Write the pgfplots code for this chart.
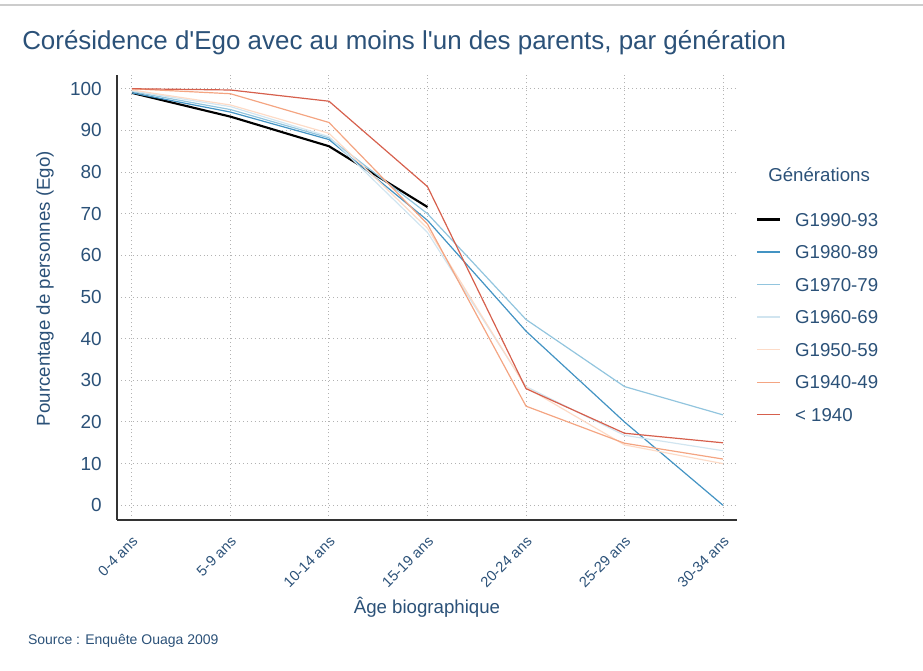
\documentclass[border=0pt]{standalone}
\usepackage{fontspec}
\setmainfont{Liberation Sans}
\usepackage{pgfplots}
\pgfplotsset{compat=1.18}

\definecolor{txt}{HTML}{2B5178}
\definecolor{g90}{HTML}{000000}
\definecolor{g80}{HTML}{4393C3}
\definecolor{g70}{HTML}{92C5DE}
\definecolor{g60}{HTML}{D1E5F0}
\definecolor{g50}{HTML}{FDDBC7}
\definecolor{g40}{HTML}{F4A582}
\definecolor{g30}{HTML}{D6604D}

\begin{document}
\begin{tikzpicture}
\useasboundingbox (0,0) rectangle (692.25pt,502.5pt);
\draw[line width=1.1pt, color=black!20] (0,498.75pt) -- (692.25pt,498.75pt);
\node[anchor=base west, inner sep=0pt, text=txt, font=\fontsize{19.45pt}{22pt}\selectfont]
  at (16.5pt,465.4pt) {Corésidence d\textquotesingle Ego avec au moins l\textquotesingle un des parents, par génération};
\node[anchor=base west, inner sep=0pt, text=txt, font=\fontsize{10.5pt}{12pt}\selectfont]
  at (20.8pt,19.5pt) {Source : Enquête Ouaga 2009};
\node[anchor=base west, inner sep=0pt, text=txt, font=\fontsize{14pt}{16pt}\selectfont]
  at (576pt,366.2pt) {Générations};

\begin{axis}[
  at={(87.75pt,112.5pt)}, anchor=south west,
  scale only axis, width=465pt, height=333.75pt,
  xmin=-0.152, xmax=6.142, ymin=-3.53, ymax=103.3,
  axis x line=bottom, axis y line=left,
  axis line style={-, line width=1.1pt, color=black!80},
  xtick={0,1,2,3,4,5,6},
  xticklabels={0-4 ans,5-9 ans,10-14 ans,15-19 ans,20-24 ans,25-29 ans,30-34 ans},
  ytick={0,10,...,100},
  major tick length=0pt,
  grid=major,
  major grid style={color=black!30, line width=0.75pt, dash pattern=on 0.75pt off 2.2pt},
  /pgf/number format/assume math mode=true,
  tick label style={text=txt},
  yticklabel style={font=\fontsize{14.2pt}{16pt}\selectfont, inner sep=0pt, anchor=east, xshift=-11.25pt},
  xticklabel style={font=\fontsize{11pt}{13pt}\selectfont, inner sep=0pt, xshift=2.5pt, yshift=-14pt, rotate=45, anchor=east},
  xlabel={Âge biographique},
  ylabel={Pourcentage de personnes (Ego)},
  label style={text=txt, font=\fontsize{14pt}{16pt}\selectfont},
  xlabel style={at={(axis description cs:0.5,-0.196)}, anchor=center},
  ylabel style={at={(axis description cs:-0.116,0.52)}, anchor=center, rotate=0},
  legend style={at={(axis description cs:1.0306,0.691)}, anchor=north west,
    draw=none, fill=none, inner sep=0pt, row sep=14.4pt, column sep=10.5pt,
    font=\fontsize{14pt}{16pt}\selectfont, text=txt,
    nodes={inner sep=0pt, text height=10pt, text depth=0pt}},
  legend cell align=left,
  clip=false,
]
\addplot[g90, line width=1.6pt] coordinates {(0,99.0) (1,93.3) (2,86.2) (3,71.6)};
\addplot[g80, line width=0.9pt] coordinates {(0,99.0) (1,94.4) (2,87.8) (3,68.4) (4,41.8) (5,20.0) (6,0.0)};
\addplot[g70, line width=0.9pt] coordinates {(0,99.3) (1,95.0) (2,88.2) (3,70.0) (4,44.6) (5,28.5) (6,21.7)};
\addplot[g60, line width=0.9pt] coordinates {(0,99.5) (1,95.7) (2,88.5) (3,65.5) (4,28.5) (5,16.8) (6,13.1)};
\addplot[g50, line width=0.9pt] coordinates {(0,99.7) (1,96.1) (2,89.3) (3,66.5) (4,28.3) (5,14.5) (6,10.0)};
\addplot[g40, line width=0.9pt] coordinates {(0,100.0) (1,98.8) (2,91.9) (3,67.5) (4,23.8) (5,14.9) (6,11.1)};
\addplot[g30, line width=0.9pt] coordinates {(0,100.0) (1,99.7) (2,97.0) (3,76.5) (4,28.0) (5,17.3) (6,15.0)};
\legend{G1990-93,G1980-89,G1970-79,G1960-69,G1950-59,G1940-49,< 1940}
\end{axis}
\end{tikzpicture}
\end{document}
